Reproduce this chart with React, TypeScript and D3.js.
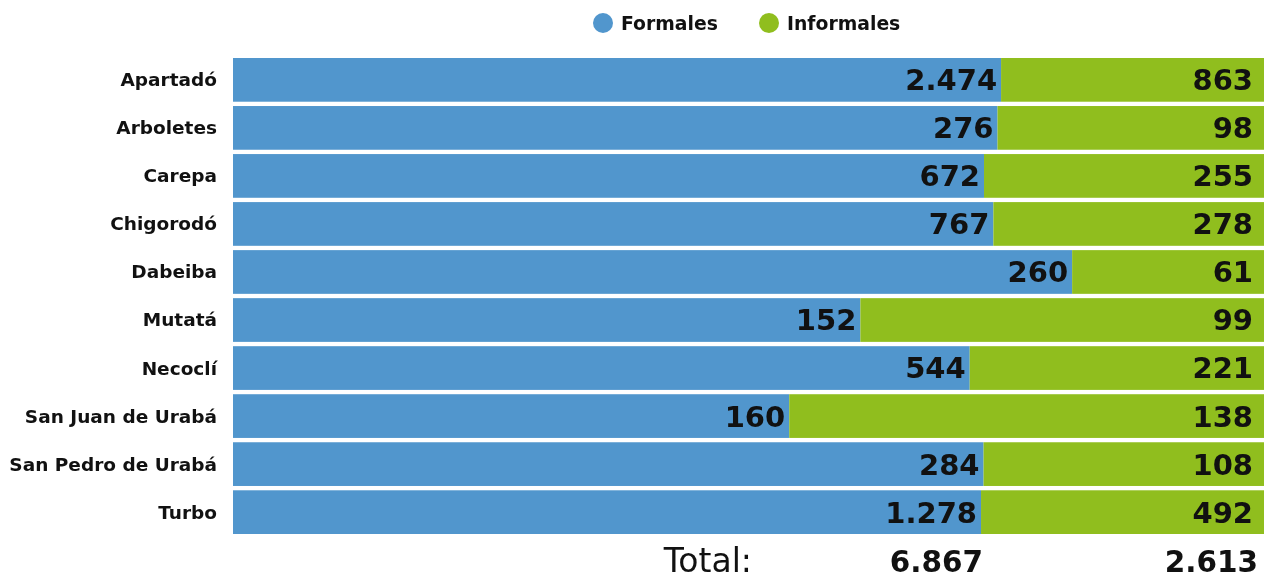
import React from "react";
import * as d3 from "d3";

const categories = [
  "Apartadó",
  "Arboletes",
  "Carepa",
  "Chigorodó",
  "Dabeiba",
  "Mutatá",
  "Necoclí",
  "San Juan de Urabá",
  "San Pedro de Urabá",
  "Turbo",
];
const formales = [2474, 276, 672, 767, 260, 152, 544, 160, 284, 1278];
const informales = [863, 98, 255, 278, 61, 99, 221, 138, 108, 492];
const seriesNames = ["Formales", "Informales"];
const totalLabel = "Total:";
const colors = ["#5196cd", "#90be1e"];

const W = 1264;
const H = 575;
const FONT = "'DejaVu Sans', sans-serif";

const locale = d3.formatLocale({
  decimal: ",",
  thousands: ".",
  grouping: [3],
  currency: ["", ""],
});
const fmt = locale.format(",d");

export default function App() {
  const y = d3.scaleBand<string>().domain(categories).range([58, 534]).paddingInner(0.09).paddingOuter(0);
  const x = d3.scaleLinear().domain([0, 1]).range([233, 1269]);
  const totalF = d3.sum(formales);
  const totalI = d3.sum(informales);

  return (
    <div style={{ position: "fixed", left: 0, top: 0, width: W, height: H, overflow: "hidden" }}>
      <svg width={W} height={H} style={{ display: "block" }}>
        {/* legend */}
        <g fontFamily={FONT} fontWeight="bold" fontSize={18.8}>
          <circle cx={603} cy={23} r={10} fill={colors[0]} />
          <text x={621} y={23} dy="0.35em" fill="#111">{seriesNames[0]}</text>
          <circle cx={769} cy={23} r={10} fill={colors[1]} />
          <text x={787} y={23} dy="0.35em" fill="#111">{seriesNames[1]}</text>
        </g>
        {categories.map((c, i) => {
          const tot = formales[i] + informales[i];
          const fr = formales[i] / tot;
          const y0 = y(c)!;
          const bw = y.bandwidth();
          const xm = x(fr);
          return (
            <g key={c}>
              <rect x={x(0)} y={y0} width={xm - x(0)} height={bw} fill={colors[0]} />
              <rect x={xm} y={y0} width={x(1) - xm} height={bw} fill={colors[1]} />
              <text x={217} y={y0 + bw / 2} dy="0.35em" textAnchor="end" fontFamily={FONT} fontWeight="bold" fontSize={18.5} fill="#111">
                {c}
              </text>
              <text x={xm - 4} y={y0 + bw / 2} dy="0.36em" textAnchor="end" fontFamily={FONT} fontWeight="bold" fontSize={29} fill="#111">
                {fmt(formales[i])}
              </text>
              <text x={1253} y={y0 + bw / 2} dy="0.36em" textAnchor="end" fontFamily={FONT} fontWeight="bold" fontSize={29} fill="#111">
                {fmt(informales[i])}
              </text>
            </g>
          );
        })}
        <g fontFamily={FONT} fill="#111">
          <text x={752} y={572} textAnchor="end" fontSize={33}>{totalLabel}</text>
          <text x={983} y={572} textAnchor="end" fontWeight="bold" fontSize={29.5}>{fmt(totalF)}</text>
          <text x={1258} y={572} textAnchor="end" fontWeight="bold" fontSize={29.5}>{fmt(totalI)}</text>
        </g>
      </svg>
    </div>
  );
}
